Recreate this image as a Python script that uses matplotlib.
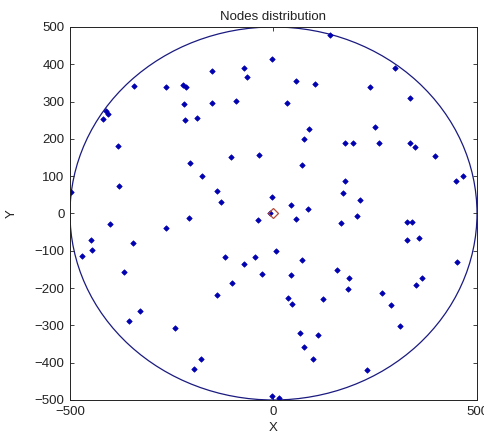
import matplotlib
matplotlib.use("Agg")
import matplotlib.pyplot as plt
from matplotlib.patches import Circle

plt.rcParams['font.family'] = ['Liberation Sans', 'DejaVu Sans']

# node positions
node_x = [-498, -418, -412, -406, -382, -379, -342, -263, -222, -214,
          -220, -218, -187, -150, -152, -92, -72, -66, -105, -206,
          -175, -140, -129, -3, 138, 56, 101, 33, 238, 298,
          335, 87, 76, 250, 175, 195, 258, 335, 347, 397,
          -35, 70, 466, 449, 175, 170, 213, -3, 42, 84,
          -470, -448, -445, -402, -345, -368, -354, -328, -265, -208,
          -241, -179, -195, -120, -72, -101, -140, -8, -38, 56,
          167, 205, 328, 341, 327, 358, 452, 5, -46, -29,
          42, 70, 156, 185, 182, 36, 45, 121, 266, 289,
          364, 350, 310, 65, 110, 76, 98, 230, -3, 13]
node_y = [57, 254, 276, 266, 181, 73, 343, 338, 345, 340,
          294, 251, 256, 382, 297, 301, 391, 365, 151, 134,
          101, 60, 32, 414, 479, 356, 347, 297, 338, 391,
          309, 227, 200, 233, 189, 189, 189, 189, 178, 154,
          157, 131, 101, 87, 87, 55, 37, 43, 23, 11,
          -115, -71, -98, -27, -80, -156, -287, -261, -39, -12,
          -308, -390, -416, -117, -135, -187, -218, 0, -18, -15,
          -25, -7, -22, -24, -71, -67, -129, -100, -118, -161,
          -165, -126, -152, -173, -202, -226, -243, -228, -214, -246,
          -173, -191, -302, -320, -326, -357, -389, -419, -488, -495]

sink_x = [0]
sink_y = [0]
field_radius = 500

fig = plt.figure(figsize=(4.85, 4.38), dpi=100)
ax = fig.add_axes([0.1443, 0.0868, 0.8392, 0.8516])

ax.add_patch(Circle((0, 0), field_radius, fill=False, edgecolor="#1a1a80", linewidth=0.9))
ax.plot(node_x, node_y, linestyle="none", marker="D", markersize=2.8,
        color="#0000b0", markeredgewidth=0.5)
ax.plot(sink_x, sink_y, linestyle="none", marker="D", markersize=5.5,
        markerfacecolor="none", markeredgecolor="#b04a3a", markeredgewidth=0.9)

ax.set_xlim(-500, 500)
ax.set_ylim(-500, 500)
ax.set_xticks([-500, 0, 500])
ax.set_yticks(range(-500, 501, 100))
ax.tick_params(direction="in", length=3, width=0.6, top=True, right=True,
               labelsize=9.5, colors="#222222", pad=4)
for s in ax.spines.values():
    s.set_linewidth(0.7)
    s.set_color("#222222")

ax.set_title("Nodes distribution", fontsize=9.5, color="#222222", pad=5)
ax.set_xlabel("X", fontsize=9.5, color="#222222", labelpad=3)
ax.set_ylabel("Y", fontsize=9.5, color="#222222", labelpad=12)

fig.savefig("out.png", dpi=100)
